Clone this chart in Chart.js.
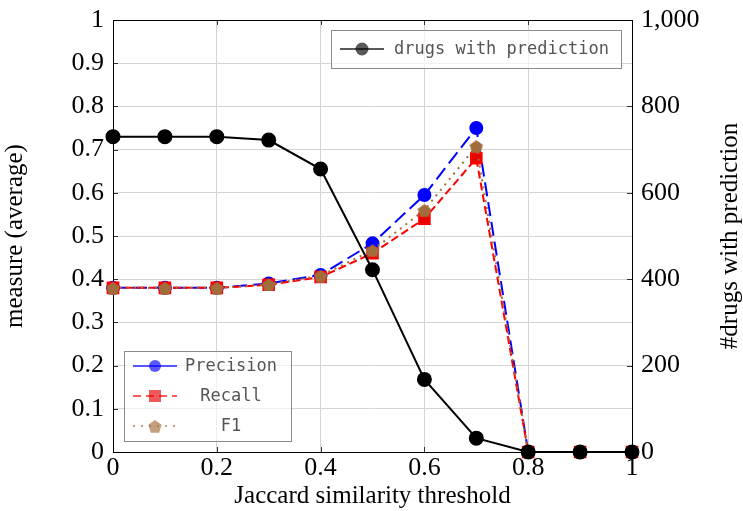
<!DOCTYPE html>
<html>
<head>
<meta charset="utf-8">
<script src="https://cdn.jsdelivr.net/npm/chart.js@4"></script>
<style>
  html, body { margin: 0; padding: 0; background: #fff; }
  canvas { display: block; }
</style>
</head>
<body>
<canvas id="chart" width="743" height="511"></canvas>
<script>
const thresholds = [0, 0.1, 0.2, 0.3, 0.4, 0.5, 0.6, 0.7, 0.8, 0.9, 1];
const precision = [0.38, 0.38, 0.38, 0.39, 0.41, 0.483, 0.595, 0.75, 0, 0, 0];
const recall = [0.38, 0.38, 0.38, 0.387, 0.405, 0.46, 0.54, 0.68, 0, 0, 0];
const f1 = [0.38, 0.38, 0.38, 0.388, 0.408, 0.467, 0.56, 0.708, 0, 0, 0];
const drugsWithPrediction = [730, 730, 730, 722, 655, 422, 168, 32, 0, 0, 0];

const xTitle = "Jaccard similarity threshold";
const leftTitle = "measure (average)";
const rightTitle = "#drugs with prediction";

const SERIF = "'Liberation Serif', 'Times New Roman', serif";
const MONO = "'DejaVu Sans Mono', monospace";
const BROWN = "#a36d3b";
const TICK_SIZE = 26;
const TITLE_SIZE = 25;

function points(values) {
  return thresholds.map((t, i) => ({ x: t, y: values[i] }));
}

// pgfplots style pentagon marker
function pentagon(size, color) {
  const c = document.createElement("canvas");
  c.width = size;
  c.height = size;
  const g = c.getContext("2d");
  const r = size / 2;
  g.beginPath();
  for (let i = 0; i < 5; i++) {
    const a = -Math.PI / 2 + i * 2 * Math.PI / 5;
    const px = r + r * Math.cos(a);
    const py = r + 1 + r * Math.sin(a);
    if (i === 0) g.moveTo(px, py); else g.lineTo(px, py);
  }
  g.closePath();
  g.fillStyle = color;
  g.fill();
  return c;
}

const fmt = v => String(+Number(v).toFixed(1));

// fixed axis box sizes so the plot area lands where the original one is
function fixWidth(w) {
  return s => {
    s.width = w;
    s.paddingTop = 0;
    s.paddingBottom = 0;
  };
}

//Frame, inner ticks, right title and the two legend boxes
const decorations = {
  id: "decorations",
  beforeDatasetsDraw(chart) {
    const { ctx, chartArea: a, scales } = chart;
    ctx.save();
    ctx.strokeStyle = "#333";
    ctx.lineWidth = 1;
    ctx.beginPath();
    scales.y.ticks.forEach(t => {
      const py = Math.round(scales.y.getPixelForValue(t.value)) + 0.5;
      ctx.moveTo(a.left, py); ctx.lineTo(a.left + 5, py);
    });
    scales.y1.ticks.forEach(t => {
      const py = Math.round(scales.y1.getPixelForValue(t.value)) + 0.5;
      ctx.moveTo(a.right, py); ctx.lineTo(a.right - 5, py);
    });
    scales.x.ticks.forEach(t => {
      const px = Math.round(scales.x.getPixelForValue(t.value)) + 0.5;
      ctx.moveTo(px, a.bottom); ctx.lineTo(px, a.bottom - 5);
      ctx.moveTo(px, a.top); ctx.lineTo(px, a.top + 5);
    });
    ctx.stroke();
    ctx.strokeStyle = "#000";
    ctx.strokeRect(Math.round(a.left) + 0.5, Math.round(a.top) + 0.5,
      Math.round(a.right - a.left), Math.round(a.bottom - a.top));
    ctx.restore();
  },
  afterDraw(chart) {
    const { ctx, chartArea: a } = chart;
    ctx.save();
    // right axis title, reading bottom to top
    ctx.translate(730, (a.top + a.bottom) / 2);
    ctx.rotate(-Math.PI / 2);
    ctx.font = TITLE_SIZE + "px " + SERIF;
    ctx.fillStyle = "#000";
    ctx.textAlign = "center";
    ctx.textBaseline = "middle";
    ctx.fillText(rightTitle, 0, 0);
    ctx.restore();

    const ds = chart.data.datasets;
    drawLegend(ctx, { x: 331, y: 30, w: 290, h: 38 }, [ds[0]], 394, "left");
    drawLegend(ctx, { x: 124, y: 351, w: 167, h: 90 }, [ds[3], ds[2], ds[1]], 231, "center");
  }
};

function drawLegend(ctx, box, items, textX, align) {
  ctx.save();
  ctx.fillStyle = "rgba(255,255,255,0.65)";
  ctx.fillRect(box.x, box.y, box.w, box.h);
  ctx.strokeStyle = "#8a8a8a";
  ctx.lineWidth = 1;
  ctx.strokeRect(box.x + 0.5, box.y + 0.5, box.w, box.h);
  const rowH = box.h / items.length;
  items.forEach((d, i) => {
    const cy = box.y + rowH * (i + 0.5);
    ctx.globalAlpha = 0.65;
    ctx.strokeStyle = d.borderColor;
    ctx.lineWidth = 2;
    ctx.setLineDash(d.legendDash || []);
    ctx.beginPath();
    ctx.moveTo(box.x + 9, cy);
    ctx.lineTo(box.x + 53, cy);
    ctx.stroke();
    ctx.setLineDash([]);
    const mx = box.x + 31;
    ctx.fillStyle = d.backgroundColor;
    if (d.pointStyle === "rect") {
      ctx.fillRect(mx - 6, cy - 6, 12, 12);
    } else if (d.pointStyle instanceof HTMLCanvasElement) {
      ctx.drawImage(d.pointStyle, mx - d.pointStyle.width / 2, cy - d.pointStyle.height / 2);
    } else {
      ctx.beginPath();
      ctx.arc(mx, cy, d.pointRadius, 0, Math.PI * 2);
      ctx.fill();
    }
    ctx.globalAlpha = 1;
    ctx.fillStyle = "#555";
    ctx.font = "17px " + MONO;
    ctx.textAlign = align;
    ctx.textBaseline = "middle";
    ctx.fillText(d.label, textX, cy + 1);
  });
  ctx.restore();
}

const ctx = document.getElementById("chart").getContext("2d");

new Chart(ctx, {
  type: "line",
  data: {
    datasets: [
      {
        label: "drugs with prediction",
        data: points(drugsWithPrediction),
        yAxisID: "y1",
        borderColor: "#000",
        backgroundColor: "#000",
        borderWidth: 2,
        pointRadius: 6.5,
        order: 0
      },
      {
        label: "F1",
        data: points(f1),
        yAxisID: "y",
        borderColor: BROWN,
        backgroundColor: BROWN,
        borderWidth: 2,
        borderDash: [2, 5],
        legendDash: [2, 6],
        pointStyle: pentagon(14, BROWN),
        order: 1
      },
      {
        label: "Recall",
        data: points(recall),
        yAxisID: "y",
        borderColor: "#ff0000",
        backgroundColor: "#e60000",
        borderWidth: 2,
        borderDash: [8, 4],
        legendDash: [8, 5],
        pointStyle: "rect",
        pointRadius: 7.5,
        order: 2
      },
      {
        label: "Precision",
        data: points(precision),
        yAxisID: "y",
        borderColor: "#0000ff",
        backgroundColor: "#0000ff",
        borderWidth: 2,
        borderDash: [14, 6],
        pointRadius: 6,
        order: 3
      }
    ]
  },
  options: {
    responsive: false,
    animation: false,
    devicePixelRatio: 1,
    layout: { padding: { top: 20, left: 0, right: 0, bottom: 0 } },
    elements: {
      line: { tension: 0 },
      point: { borderWidth: 0 }
    },
    datasets: { line: { clip: false } },
    plugins: {
      legend: { display: false },
      tooltip: { enabled: false }
    },
    scales: {
      x: {
        type: "linear",
        min: 0,
        max: 1,
        ticks: {
          stepSize: 0.2,
          callback: fmt,
          color: "#000",
          padding: 1,
          font: { family: SERIF, size: TICK_SIZE }
        },
        grid: { color: "#d4d4d4", drawTicks: false },
        border: { display: false },
        title: {
          display: true,
          text: xTitle,
          color: "#000",
          padding: { top: 0, bottom: 0 },
          font: { family: SERIF, size: TITLE_SIZE }
        },
        afterFit: s => {
          s.height = 59;
          s.paddingLeft = 0;
          s.paddingRight = 0;
        }
      },
      y: {
        position: "left",
        min: 0,
        max: 1,
        ticks: {
          stepSize: 0.1,
          callback: fmt,
          color: "#000",
          padding: 9,
          font: { family: SERIF, size: TICK_SIZE }
        },
        grid: { color: "#d4d4d4", drawTicks: false },
        border: { display: false },
        title: {
          display: true,
          text: leftTitle,
          color: "#000",
          padding: { top: 0, bottom: 0 },
          font: { family: SERIF, size: TITLE_SIZE }
        },
        afterFit: fixWidth(113)
      },
      y1: {
        position: "right",
        min: 0,
        max: 1000,
        ticks: {
          stepSize: 200,
          color: "#000",
          padding: 9,
          font: { family: SERIF, size: TICK_SIZE }
        },
        grid: { drawOnChartArea: false, drawTicks: false },
        border: { display: false },
        afterFit: fixWidth(111)
      }
    }
  },
  plugins: [decorations]
});
</script>
</body>
</html>
